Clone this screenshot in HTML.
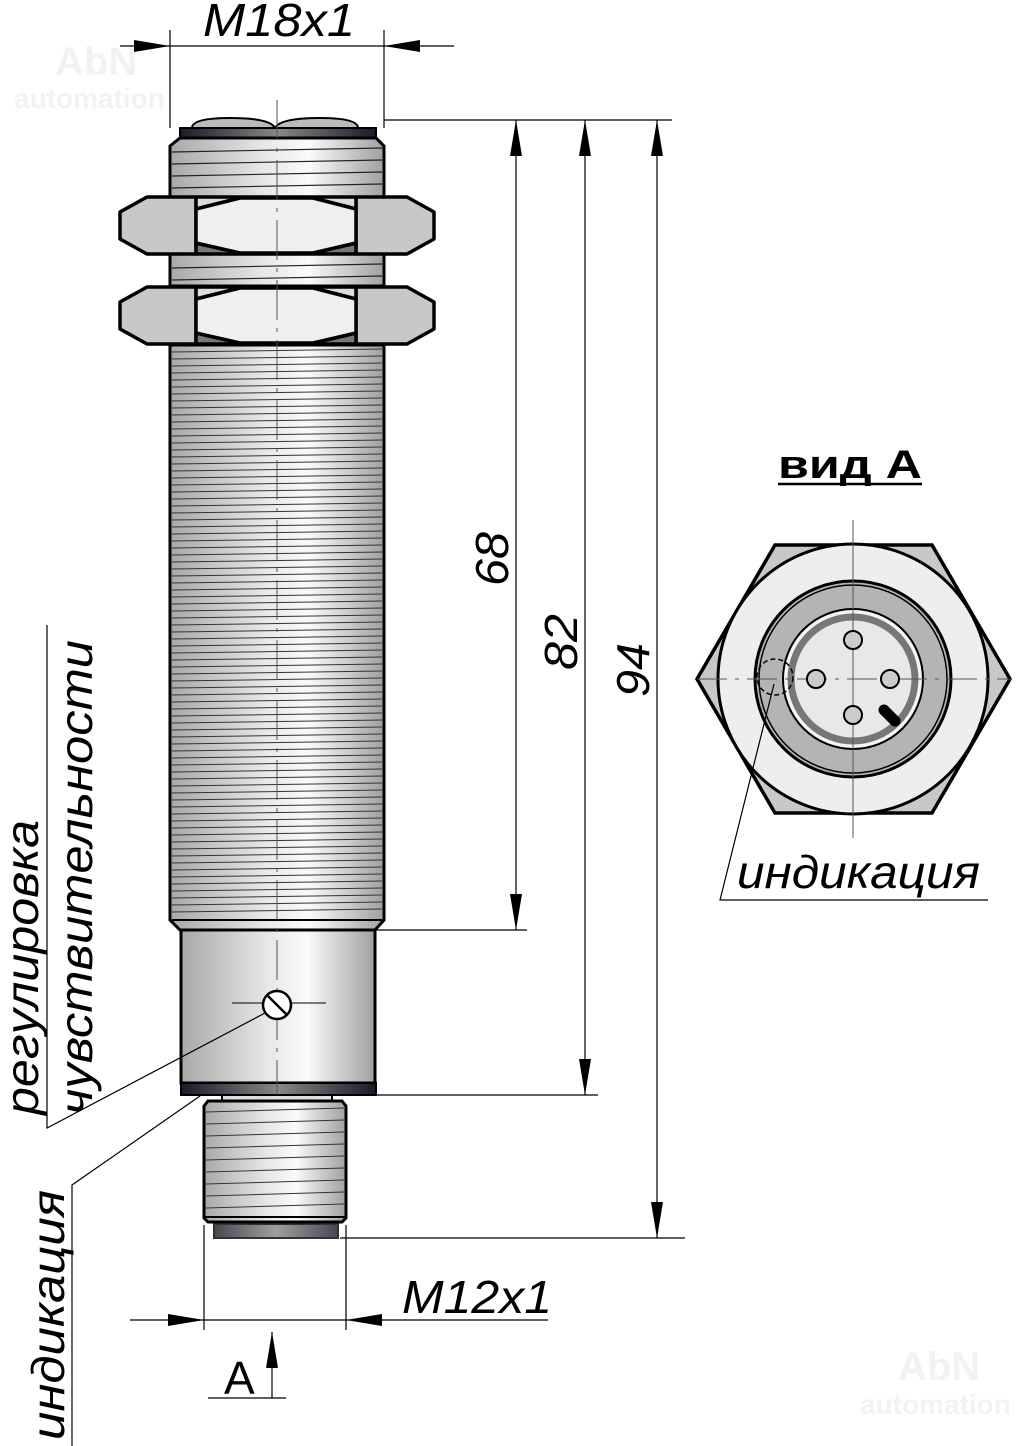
<!DOCTYPE html>
<html><head><meta charset="utf-8"><style>
html,body{margin:0;padding:0;background:#fff;}
svg{display:block;}
text{font-family:"Liberation Sans","DejaVu Sans",sans-serif;}
</style></head><body>
<svg width="1026" height="1446" viewBox="0 0 1026 1446" xmlns="http://www.w3.org/2000/svg">
<defs>
<linearGradient id="cyl" x1="0" x2="1" y1="0" y2="0">
<stop offset="0" stop-color="#a8a8a8"/><stop offset="0.45" stop-color="#e8e8e8"/><stop offset="0.65" stop-color="#fafafa"/><stop offset="1" stop-color="#a0a0a0"/>
</linearGradient>
<linearGradient id="dark" x1="0" x2="1"><stop offset="0" stop-color="#1a1a2a"/><stop offset="0.5" stop-color="#888"/><stop offset="1" stop-color="#1a1a2a"/></linearGradient>
<marker id="ar" viewBox="0 0 36 12" refX="36" refY="6" markerWidth="36" markerHeight="12" markerUnits="userSpaceOnUse" orient="auto"><path d="M0,0 L36,6 L0,12 Z" fill="#000"/></marker>
</defs>

<!-- watermarks -->
<text x="55" y="75" font-size="40" fill="#f2f2f2" font-weight="bold">AbN</text>
<text x="14" y="108" font-size="28" fill="#f2f2f2" font-weight="bold">automation</text>
<text x="898" y="1380" font-size="40" fill="#f2f2f2" font-weight="bold">AbN</text>
<text x="860" y="1414" font-size="28" fill="#f2f2f2" font-weight="bold">automation</text>

<!-- top lens -->
<path d="M192,128 Q192,118 230,118 Q270,118 275,128 Q280,118 320,118 Q358,118 358,128 Z" fill="#bbb" stroke="#000" stroke-width="2"/>
<rect x="180" y="128" width="196" height="10" fill="url(#dark)" stroke="#000" stroke-width="2"/>
<!-- top thread -->
<path d="M180,138 L376,138 L384,146 L384,197 L170,197 L170,146 Z" fill="url(#cyl)" stroke="#000" stroke-width="3"/>
<g stroke="#222" stroke-width="1.2">
<line x1="172" y1="152" x2="382" y2="148"/><line x1="172" y1="164" x2="382" y2="160"/><line x1="172" y1="176" x2="382" y2="172"/><line x1="172" y1="188" x2="382" y2="184"/>
</g>
<!-- between nuts -->
<rect x="170" y="253" width="214" height="33" fill="url(#cyl)" stroke="#000" stroke-width="3"/>
<line x1="172" y1="268" x2="382" y2="264" stroke="#222" stroke-width="1.2"/><line x1="172" y1="280" x2="382" y2="276" stroke="#222" stroke-width="1.2"/>

<!-- main body -->
<path d="M170,345 L384,345 L384,920 L375,930 L180,930 L170,920 Z" fill="url(#cyl)" stroke="#000" stroke-width="3"/>
<g stroke="#333" stroke-width="1">
<line x1="172" y1="352" x2="382" y2="349"/><line x1="172" y1="359" x2="382" y2="356"/><line x1="172" y1="366" x2="382" y2="363"/><line x1="172" y1="373" x2="382" y2="370"/><line x1="172" y1="380" x2="382" y2="377"/><line x1="172" y1="387" x2="382" y2="384"/><line x1="172" y1="394" x2="382" y2="391"/><line x1="172" y1="401" x2="382" y2="398"/><line x1="172" y1="408" x2="382" y2="405"/><line x1="172" y1="415" x2="382" y2="412"/><line x1="172" y1="422" x2="382" y2="419"/><line x1="172" y1="429" x2="382" y2="426"/><line x1="172" y1="436" x2="382" y2="433"/><line x1="172" y1="443" x2="382" y2="440"/><line x1="172" y1="450" x2="382" y2="447"/><line x1="172" y1="457" x2="382" y2="454"/><line x1="172" y1="464" x2="382" y2="461"/><line x1="172" y1="471" x2="382" y2="468"/><line x1="172" y1="478" x2="382" y2="475"/><line x1="172" y1="485" x2="382" y2="482"/><line x1="172" y1="492" x2="382" y2="489"/><line x1="172" y1="499" x2="382" y2="496"/><line x1="172" y1="506" x2="382" y2="503"/><line x1="172" y1="513" x2="382" y2="510"/><line x1="172" y1="520" x2="382" y2="517"/><line x1="172" y1="527" x2="382" y2="524"/><line x1="172" y1="534" x2="382" y2="531"/><line x1="172" y1="541" x2="382" y2="538"/><line x1="172" y1="548" x2="382" y2="545"/><line x1="172" y1="555" x2="382" y2="552"/><line x1="172" y1="562" x2="382" y2="559"/><line x1="172" y1="569" x2="382" y2="566"/><line x1="172" y1="576" x2="382" y2="573"/><line x1="172" y1="583" x2="382" y2="580"/><line x1="172" y1="590" x2="382" y2="587"/><line x1="172" y1="597" x2="382" y2="594"/><line x1="172" y1="604" x2="382" y2="601"/><line x1="172" y1="611" x2="382" y2="608"/><line x1="172" y1="618" x2="382" y2="615"/><line x1="172" y1="625" x2="382" y2="622"/><line x1="172" y1="632" x2="382" y2="629"/><line x1="172" y1="639" x2="382" y2="636"/><line x1="172" y1="646" x2="382" y2="643"/><line x1="172" y1="653" x2="382" y2="650"/><line x1="172" y1="660" x2="382" y2="657"/><line x1="172" y1="667" x2="382" y2="664"/><line x1="172" y1="674" x2="382" y2="671"/><line x1="172" y1="681" x2="382" y2="678"/><line x1="172" y1="688" x2="382" y2="685"/><line x1="172" y1="695" x2="382" y2="692"/><line x1="172" y1="702" x2="382" y2="699"/><line x1="172" y1="709" x2="382" y2="706"/><line x1="172" y1="716" x2="382" y2="713"/><line x1="172" y1="723" x2="382" y2="720"/><line x1="172" y1="730" x2="382" y2="727"/><line x1="172" y1="737" x2="382" y2="734"/><line x1="172" y1="744" x2="382" y2="741"/><line x1="172" y1="751" x2="382" y2="748"/><line x1="172" y1="758" x2="382" y2="755"/><line x1="172" y1="765" x2="382" y2="762"/><line x1="172" y1="772" x2="382" y2="769"/><line x1="172" y1="779" x2="382" y2="776"/><line x1="172" y1="786" x2="382" y2="783"/><line x1="172" y1="793" x2="382" y2="790"/><line x1="172" y1="800" x2="382" y2="797"/><line x1="172" y1="807" x2="382" y2="804"/><line x1="172" y1="814" x2="382" y2="811"/><line x1="172" y1="821" x2="382" y2="818"/><line x1="172" y1="828" x2="382" y2="825"/><line x1="172" y1="835" x2="382" y2="832"/><line x1="172" y1="842" x2="382" y2="839"/><line x1="172" y1="849" x2="382" y2="846"/><line x1="172" y1="856" x2="382" y2="853"/><line x1="172" y1="863" x2="382" y2="860"/><line x1="172" y1="870" x2="382" y2="867"/><line x1="172" y1="877" x2="382" y2="874"/><line x1="172" y1="884" x2="382" y2="881"/><line x1="172" y1="891" x2="382" y2="888"/><line x1="172" y1="898" x2="382" y2="895"/><line x1="172" y1="905" x2="382" y2="902"/><line x1="172" y1="912" x2="382" y2="909"/>
</g>
<line x1="172" y1="920" x2="382" y2="920" stroke="#000" stroke-width="2"/>

<!-- nuts -->
<g stroke="#000" stroke-width="3.5" stroke-linejoin="round">
<g>
<polygon points="120,212 147,197 196,197 196,254 147,254 120,239" fill="#c8c8c8"/>
<polygon points="434,212 407,197 356,197 356,254 407,254 434,239" fill="#c8c8c8"/>
<polygon points="196,197 356,197 356,209 313,198 240,198 196,209" fill="#ddd"/>
<polygon points="196,254 356,254 356,243 313,253 240,253 196,243" fill="#777"/>
<polygon points="196,209 240,198 313,198 356,209 356,243 313,253 240,253 196,243" fill="#efefef"/>
</g>
<g transform="translate(0,90)">
<polygon points="120,212 147,197 196,197 196,254 147,254 120,239" fill="#c8c8c8"/>
<polygon points="434,212 407,197 356,197 356,254 407,254 434,239" fill="#c8c8c8"/>
<polygon points="196,197 356,197 356,209 313,198 240,198 196,209" fill="#ddd"/>
<polygon points="196,254 356,254 356,243 313,253 240,253 196,243" fill="#777"/>
<polygon points="196,209 240,198 313,198 356,209 356,243 313,253 240,253 196,243" fill="#efefef"/>
</g>
</g>

<!-- lower cylinder -->
<rect x="181" y="930" width="194" height="153" fill="url(#cyl)" stroke="#000" stroke-width="3"/>
<rect x="181" y="1083" width="195" height="12" fill="url(#dark)" stroke="#000" stroke-width="2"/>
<rect x="222" y="1095" width="110" height="6" fill="#ddd" stroke="#000" stroke-width="2"/>
<!-- connector thread -->
<path d="M208,1101 L342,1101 L346,1106 L346,1218 L342,1222 L208,1222 L204,1218 L204,1106 Z" fill="url(#cyl)" stroke="#000" stroke-width="3"/>
<g stroke="#333" stroke-width="1">
<line x1="206" y1="1112" x2="344" y2="1108"/><line x1="206" y1="1124" x2="344" y2="1120"/><line x1="206" y1="1136" x2="344" y2="1132"/><line x1="206" y1="1148" x2="344" y2="1144"/><line x1="206" y1="1160" x2="344" y2="1156"/><line x1="206" y1="1172" x2="344" y2="1168"/><line x1="206" y1="1184" x2="344" y2="1180"/><line x1="206" y1="1196" x2="344" y2="1192"/><line x1="206" y1="1208" x2="344" y2="1204"/>
</g>
<line x1="205" y1="1217" x2="345" y2="1217" stroke="#000" stroke-width="2"/>
<rect x="214" y="1224" width="124" height="14" fill="url(#dark)" stroke="#000" stroke-width="2" opacity="0.8"/>

<!-- centerline -->
<line x1="277" y1="100" x2="277" y2="1095" stroke="#555" stroke-width="1" stroke-dasharray="40,8,4,8"/>

<!-- screw -->
<line x1="232" y1="1003" x2="326" y2="1003" stroke="#000" stroke-width="1"/>
<circle cx="277" cy="1005" r="14" fill="#fff" stroke="#000" stroke-width="2.5"/>
<line x1="268" y1="996" x2="286" y2="1014" stroke="#000" stroke-width="2.5"/>

<!-- leaders left -->
<g stroke="#000" stroke-width="1.2" fill="none">
<polyline points="265,1013 47,1128 47,625"/>
<polyline points="200,1096 72,1185 72,1446"/>
</g>
<text transform="translate(38,1115) rotate(-90)" font-size="46" font-style="italic" textLength="295" lengthAdjust="spacingAndGlyphs">регулировка</text>
<text transform="translate(92,1115) rotate(-90)" font-size="46" font-style="italic" textLength="475" lengthAdjust="spacingAndGlyphs">чувствительности</text>
<text transform="translate(64,1440) rotate(-90)" font-size="46" font-style="italic" textLength="250" lengthAdjust="spacingAndGlyphs">индикация</text>

<!-- dimensions -->
<g stroke="#000" stroke-width="1.2" fill="none">
<line x1="170" y1="30" x2="170" y2="128"/>
<line x1="384" y1="30" x2="384" y2="128"/>
<line x1="120" y1="46" x2="170" y2="46" marker-end="url(#ar)"/>
<line x1="454" y1="46" x2="384" y2="46" marker-end="url(#ar)"/>
<line x1="170" y1="46" x2="384" y2="46"/>
<line x1="384" y1="120" x2="672" y2="120"/>
<line x1="375" y1="930" x2="527" y2="930"/>
<line x1="376" y1="1095" x2="598" y2="1095"/>
<line x1="340" y1="1238" x2="685" y2="1238"/>
<line x1="516" y1="525" x2="516" y2="120" marker-end="url(#ar)"/>
<line x1="516" y1="525" x2="516" y2="930" marker-end="url(#ar)"/>
<line x1="585" y1="600" x2="585" y2="120" marker-end="url(#ar)"/>
<line x1="585" y1="600" x2="585" y2="1095" marker-end="url(#ar)"/>
<line x1="657" y1="680" x2="657" y2="120" marker-end="url(#ar)"/>
<line x1="657" y1="680" x2="657" y2="1238" marker-end="url(#ar)"/>
<line x1="204" y1="1225" x2="204" y2="1330"/>
<line x1="346" y1="1225" x2="346" y2="1330"/>
<line x1="130" y1="1320" x2="204" y2="1320" marker-end="url(#ar)"/>
<line x1="548" y1="1320" x2="346" y2="1320" marker-end="url(#ar)"/>
<line x1="204" y1="1320" x2="346" y2="1320"/>
<line x1="272" y1="1398" x2="272" y2="1332" marker-end="url(#ar)"/>
<line x1="208" y1="1398" x2="286" y2="1398"/>
</g>
<text x="203" y="36" font-size="46" font-style="italic" textLength="152" lengthAdjust="spacingAndGlyphs">M18x1</text>
<text x="402" y="1313" font-size="46" font-style="italic" textLength="150" lengthAdjust="spacingAndGlyphs">M12x1</text>
<text x="224" y="1394" font-size="46">A</text>
<text transform="translate(508,586) rotate(-90)" font-size="46" font-style="italic" textLength="54" lengthAdjust="spacingAndGlyphs">68</text>
<text transform="translate(577,670) rotate(-90)" font-size="46" font-style="italic" textLength="56" lengthAdjust="spacingAndGlyphs">82</text>
<text transform="translate(649,697) rotate(-90)" font-size="46" font-style="italic" textLength="54" lengthAdjust="spacingAndGlyphs">94</text>

<!-- view A -->
<text x="778" y="478" font-size="40" font-weight="bold" textLength="144" lengthAdjust="spacingAndGlyphs">вид А</text>
<line x1="778" y1="484" x2="922" y2="484" stroke="#000" stroke-width="2.5"/>
<polygon points="697,679 775,545 932,545 1010,679 932,813 775,813" fill="#c8c8c8" stroke="#000" stroke-width="3.5"/>
<circle cx="853" cy="679" r="135" fill="#eee" stroke="#000" stroke-width="3"/>
<circle cx="853" cy="679" r="98" fill="#b4b4b4" stroke="#000" stroke-width="3"/>
<circle cx="853" cy="679" r="94" fill="none" stroke="#000" stroke-width="1.5"/>
<circle cx="853" cy="679" r="70" fill="#f4f4f4" stroke="#000" stroke-width="2"/>
<circle cx="853" cy="679" r="62" fill="#e8e8e8" stroke="#777" stroke-width="7"/>
<g stroke="#555" stroke-width="1">
<line x1="853" y1="520" x2="853" y2="838"/>
<line x1="697" y1="679" x2="1012" y2="679" stroke-dasharray="30,8,4,8"/>
</g>
<g fill="#ccc" stroke="#000" stroke-width="2">
<circle cx="853" cy="640" r="9"/><circle cx="816" cy="679" r="9"/><circle cx="890" cy="679" r="9"/><circle cx="853" cy="715" r="9"/>
</g>
<line x1="884" y1="710" x2="895" y2="721" stroke="#000" stroke-width="11" stroke-linecap="round"/>
<circle cx="775" cy="677" r="18" fill="none" stroke="#000" stroke-width="1.5" stroke-dasharray="5,3"/>
<polyline points="774,684 720,900 988,900" fill="none" stroke="#000" stroke-width="1.2"/>
<text x="737" y="888" font-size="46" font-style="italic" textLength="243" lengthAdjust="spacingAndGlyphs">индикация</text>
</svg>
</body></html>
